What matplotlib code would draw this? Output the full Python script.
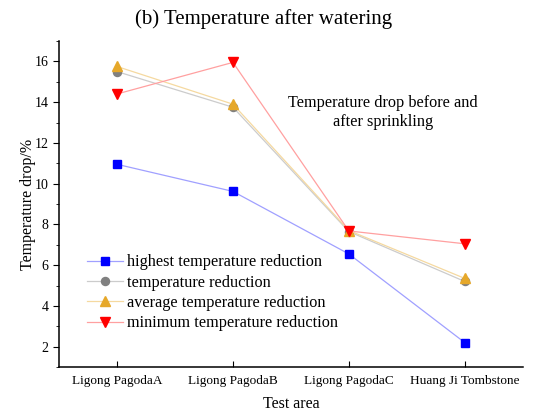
import matplotlib
matplotlib.use("Agg")
import matplotlib.pyplot as plt
from matplotlib.ticker import MultipleLocator

plt.rcParams['font.family'] = ['Liberation Serif', 'DejaVu Serif']

categories = ["Ligong PagodaA", "Ligong PagodaB", "Ligong PagodaC", "Huang Ji Tombstone"]
highest = [10.95, 9.62, 6.55, 2.2]
temp_red = [15.5, 13.75, 7.65, 5.2]
average = [15.75, 13.9, 7.7, 5.35]
minimum = [14.4, 15.95, 7.68, 7.05]

fig = plt.figure(figsize=(5.34, 4.12), dpi=100)
ax = fig.add_axes([0.1105, 0.109, 0.8685, 0.7915])
x = list(range(len(categories)))

ax.plot(x, highest, color='#a0a0ff', lw=0.9, marker='s', ms=5.3, mfc='#0000ff', mec='#0000ff',
        label='highest temperature reduction')
ax.plot(x, temp_red, color='#cccccc', lw=0.9, marker='o', ms=5.8, mfc='#808080', mec='#808080',
        label='temperature reduction')
ax.plot(x, average, color='#f5d9a0', lw=0.9, marker='^', ms=6.5, mfc='#e6a82a', mec='#e6a82a',
        label='average temperature reduction')
ax.plot(x, minimum, color='#ffa0a0', lw=0.9, marker='v', ms=6.5, mfc='#ff0000', mec='#ff0000',
        label='minimum temperature reduction')

ax.set_xlim(-0.5, 3.5)
ax.set_ylim(1, 17)
ax.set_xticks(x)
ax.set_xticklabels(categories, fontsize=9.5)
ax.yaxis.set_major_locator(MultipleLocator(2))
ax.yaxis.set_minor_locator(MultipleLocator(1))
ax.tick_params(axis='y', which='major', direction='out', length=4, labelsize=10)
ax.tick_params(axis='y', which='minor', direction='out', length=2.5)
ax.tick_params(axis='x', which='major', direction='in', length=4, pad=6)
for s in ['top', 'right']:
    ax.spines[s].set_visible(False)
ax.spines['left'].set_linewidth(1.1)
ax.spines['bottom'].set_linewidth(1.1)

ax.set_xlabel('Test area', fontsize=11.5, labelpad=6)
ax.set_ylabel('Temperature drop/%', fontsize=11.5, labelpad=-1)
fig.text(0.493, 0.953, '(b) Temperature after watering', ha='center', va='center', fontsize=15)
ax.text(0.698, 0.781, 'Temperature drop before and\nafter sprinkling', transform=ax.transAxes,
        ha='center', va='center', fontsize=11.7, linespacing=1.2)

ax.legend(loc='upper left', bbox_to_anchor=(0.06, 0.346), frameon=False, fontsize=11.7,
          handlelength=2.2, handletextpad=0.25, labelspacing=0.27, borderaxespad=0, borderpad=0)

fig.savefig('out.png', dpi=100)
